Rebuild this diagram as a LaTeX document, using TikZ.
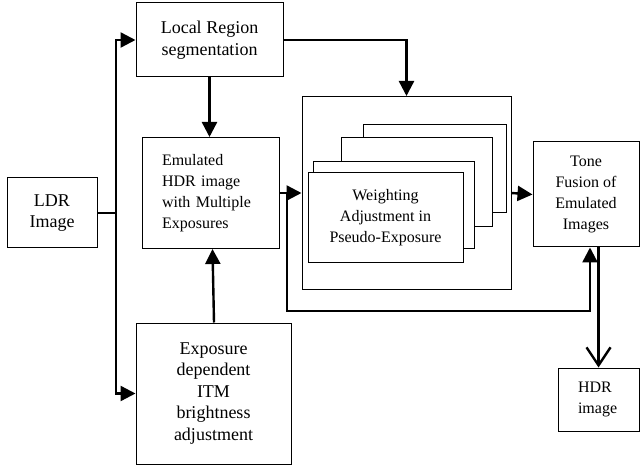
\documentclass[tikz,border=0pt]{standalone}
\usepackage{fontspec}
\setmainfont{Liberation Serif}
\usetikzlibrary{arrows.meta}
\tikzset{
  box/.style={draw, line width=1pt, fill=white, inner sep=0pt},
  big/.style={font=\fontsize{18}{21.5}\selectfont, align=center},
  small/.style={font=\fontsize{16}{21}\selectfont, align=center},
  conn/.style={line width=2.4pt},
  tri/.style={-{Triangle[length=15pt,width=15pt]}},
  barb/.style={-{Straight Barb[length=18pt,width=24pt,line width=2.4pt]}}
}
\begin{document}
\begin{tikzpicture}[x=1pt,y=-1pt]
\useasboundingbox (0,0) rectangle (640,465);
% nodes
\node[box,big,minimum width=90pt,minimum height=70pt] (ldr) at (52,213) {LDR\\Image};
\node[box,big,minimum width=147pt,minimum height=74pt] (seg) at (209.5,40) {Local Region\\segmentation};
\node[box,small,align=left,text width=97pt,inner xsep=20pt,minimum height=111pt] (emu) at (210.5,193) {Emulated\\HDR image\\with Multiple\\Exposures};
\node[box,big,minimum width=155pt,minimum height=141pt] (exp) at (213.5,393.5) {Exposure\\dependent\\ITM\\brightness\\adjustment};
\node[box,minimum width=209pt,minimum height=193pt] (outer) at (406.5,193) {};
\node[box,minimum width=143pt,minimum height=88pt] (s1) at (434.5,169) {};
\node[box,minimum width=151pt,minimum height=89pt] (s2) at (416.5,182.5) {};
\node[box,minimum width=161pt,minimum height=87pt] (s3) at (393.5,205.5) {};
\node[box,small,minimum width=155pt,minimum height=90pt] (s4) at (385.5,218) {Weighting\\Adjustment in\\Pseudo-Exposure};
\node[box,small,minimum width=106pt,minimum height=105pt] (tone) at (586,194.5) {Tone\\Fusion of\\Emulated\\Images};
\node[box,small,align=left,text width=41pt,inner xsep=20pt,minimum height=63pt] (hdr) at (598.5,399.5) {HDR\\image};
% coordinates
\coordinate (j) at (116,213);
\coordinate (fb) at (287,193);
\coordinate (fb2) at (287,311);
% connectors
\draw[conn] (ldr.east) -- (j);
\draw[conn,tri] (j) |- (seg.west);
\draw[conn,tri] (j) |- (exp.west);
\draw[conn,tri] (seg.south) -- (seg.south |- emu.north);
\draw[conn,tri] ([xshift=0.5pt]exp.north) -- ([xshift=-1pt]exp.north |- emu.south);
\draw[conn,tri] (seg.east) -| (outer.north);
\draw[conn,tri] (emu.east) -- (outer.west);
\draw[conn,tri] (outer.east) -- (tone.west);
\draw[conn,tri] (fb) -- (fb2) -| ([xshift=4pt]tone.south);
\draw[conn,barb] (hdr.north |- tone.south) -- (hdr.north);
\end{tikzpicture}
\end{document}
